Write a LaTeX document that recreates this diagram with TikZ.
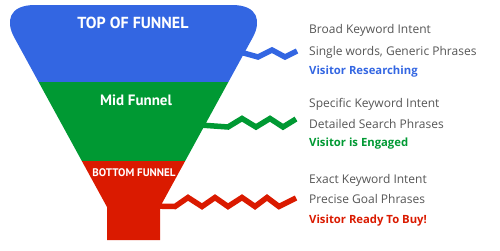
\documentclass[tikz,border=0pt]{standalone}
\usepackage{fontspec}
\setmainfont{PT Sans}
\newfontfamily\descfont{Open Sans}
\definecolor{fblue}{RGB}{51,102,226}
\definecolor{fgreen}{RGB}{0,153,51}
\definecolor{fred}{RGB}{218,26,0}
\definecolor{fgray}{RGB}{85,85,85}
\begin{document}
\begin{tikzpicture}[x=1pt,y=-1pt,
  desc/.style={anchor=base west, text=fgray, font=\descfont\fontsize{12}{14}\selectfont, inner sep=0pt},
  head/.style={anchor=base west, font=\descfont\fontsize{11.3}{14}\selectfont\bfseries, inner sep=0pt},
  lbl/.style={anchor=base, text=white, inner sep=0pt},
  zig/.style={line width=5.5pt, line join=miter}]
\useasboundingbox (0,0) rectangle (500,250);
% zigzag arms
\draw[zig, fblue] (240,52) -- (258,57) -- (272,50) -- (285,57) -- (297,51);
\draw[zig, fgreen] (200,125) -- (228,127) -- (242,118.5) -- (256,127) -- (270,118.5) -- (283,127) -- (296,119);
\draw[zig, fred] (150,206) -- (175,206.5) -- (188,197.5) -- (202,206.5) -- (215,197.5) -- (228,206.5) -- (242,197.5) -- (255,206.5) -- (267,197.5) -- (279,206.5) -- (296,198);
% funnel
\begin{scope}
\clip (14,37) .. controls (6,22) and (8,5) .. (35,5) -- (232,5) .. controls (259,5) and (261,22) .. (253,37) -- (160,207) -- (160,240) -- (107,240) -- (107,207) -- cycle;
\fill[fblue] (0,0) rectangle (500,82);
\fill[fgreen] (0,82) rectangle (500,161);
\fill[fred] (0,161) rectangle (500,250);
\end{scope}
% funnel labels
\node[lbl, font=\fontsize{16}{18}\selectfont\bfseries] (top) at (133,28) {TOP OF FUNNEL};
\node[lbl, font=\fontsize{15}{17}\selectfont\bfseries] (mid) at (136,105) {Mid Funnel};
\node[lbl, font=\fontsize{11}{13}\selectfont\bfseries] (bot) at (134,176.5) {BOTTOM FUNNEL};
% descriptions
\node[desc] (b1) at (309,33) {Broad Keyword Intent};
\node[desc] (b2) at (309,55) {Single words, Generic Phrases};
\node[head, text=fblue] (b3) at (309,74) {Visitor Researching};
\node[desc] (g1) at (309,107) {Specific Keyword Intent};
\node[desc] (g2) at (309,128) {Detailed Search Phrases};
\node[head, text=fgreen] (g3) at (309,146) {Visitor is Engaged};
\node[desc] (r1) at (309,183) {Exact Keyword Intent};
\node[desc] (r2) at (309,203) {Precise Goal Phrases};
\node[head, text=fred] (r3) at (309,223) {Visitor Ready To Buy!};
\end{tikzpicture}
\end{document}
